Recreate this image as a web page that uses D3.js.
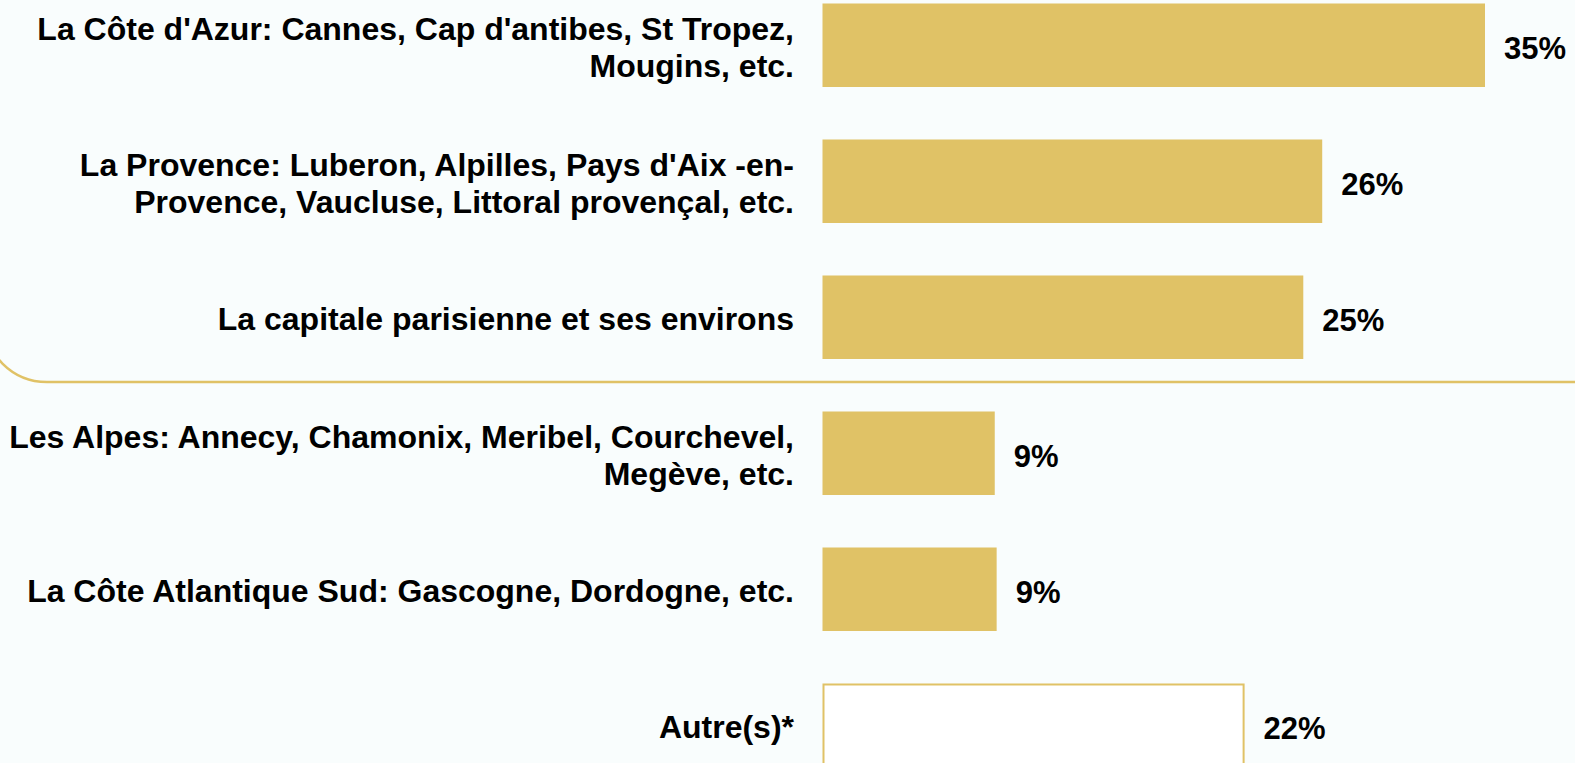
<!DOCTYPE html>
<html>
<head>
    <meta charset="utf-8">
    <title>destinations</title>
    <script src="https://d3js.org/d3.v7.min.js"></script>
    <style type="text/css">
        html, body {
            margin: 0;
            padding: 0;
            background: #f9fdfd;
            overflow: hidden;
        }

        .catLabel {
            font-family: "Liberation Sans", Arial, sans-serif;
            font-size: 32px;
            font-weight: bold;
            fill: #000000;
        }

        .valLabel {
            font-family: "Liberation Sans", Arial, sans-serif;
            font-size: 31px;
            font-weight: bold;
            fill: #000000;
        }
    </style>
</head>
<body>
<div id="chart"></div>
<script>
// categories, one entry per bar, split in the lines shown
var categories = [
    ["La Côte d'Azur: Cannes, Cap d'antibes, St Tropez,", "Mougins, etc."],
    ["La Provence: Luberon, Alpilles, Pays d'Aix -en-", "Provence, Vaucluse, Littoral provençal, etc."],
    ["La capitale parisienne et ses environs"],
    ["Les Alpes: Annecy, Chamonix, Meribel, Courchevel,", "Megève, etc."],
    ["La Côte Atlantique Sud: Gascogne, Dordogne, etc."],
    ["Autre(s)*"]
];
var values = [35.0, 26.4, 25.4, 9.1, 9.2, 22.3];

var width = 1575, height = 763;
var barLeft = 822.5;
var gold = '#e0c266';

var svg = d3.select('#chart').append('svg')
            .attr('width', width)
            .attr('height', height);

// rounded frame around the first three regions
svg.append('rect')
   .attr('x', -16)
   .attr('y', -300)
   .attr('width', 1700)
   .attr('height', 682)
   .attr('rx', 63)
   .attr('ry', 63)
   .attr('fill', 'none')
   .attr('stroke', gold)
   .attr('stroke-width', 2.5);

var keys = d3.range(categories.length);

var y = d3.scaleBand()
          .domain(keys)
          .range([-49, 819.5])
          .padding(0.386);

var x = d3.scaleLinear()
          .domain([0, 35])
          .range([0, 662.5]);

var isOther = function(i) { return categories[i][0] === 'Autre(s)*'; };

var rows = svg.selectAll('.row')
              .data(keys)
              .enter().append('g')
              .attr('class', 'row');

rows.append('rect')
    .attr('x', function(i) { return barLeft + (isOther(i) ? 1 : 0); })
    .attr('y', function(i) { return y(i) + (isOther(i) ? 1 : 0); })
    .attr('width', function(i) { return x(values[i]) - (isOther(i) ? 2 : 0); })
    .attr('height', function(i) { return y.bandwidth() + (isOther(i) ? 40 : 0); })
    .attr('fill', function(i) { return isOther(i) ? '#ffffff' : gold; })
    .attr('stroke', function(i) { return isOther(i) ? gold : 'none'; })
    .attr('stroke-width', 2);

rows.append('text')
    .attr('class', 'valLabel')
    .attr('x', function(i) { return barLeft + x(values[i]) + 19; })
    .attr('y', function(i) { return y(i) + y.bandwidth() / 2 + 14; })
    .text(function(i) { return Math.round(values[i]) + '%'; });

var lineH = 37;
var label = rows.append('text')
                .attr('class', 'catLabel')
                .attr('text-anchor', 'end');

label.selectAll('tspan')
     .data(function(i) {
         var lines = categories[i];
         return lines.map(function(t, k) {
             return {t: t, y: y(i) + y.bandwidth() / 2 + 13 + (k - (lines.length - 1) / 2) * lineH};
         });
     })
     .enter().append('tspan')
     .attr('x', 794)
     .attr('y', function(d) { return d.y; })
     .text(function(d) { return d.t; });
</script>
</body>
</html>
